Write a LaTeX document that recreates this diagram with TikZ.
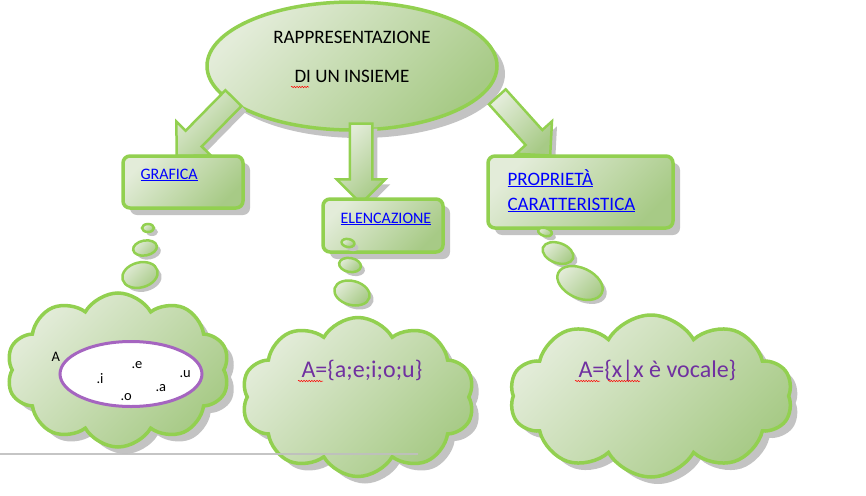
\documentclass[tikz,border=0pt]{standalone}
\usepackage{fontspec}
\setmainfont{Carlito}
\usetikzlibrary{shapes.geometric,shapes.arrows,shapes.symbols,shadows,decorations.pathmorphing}
\definecolor{verde}{HTML}{92D050}
\definecolor{chiaro}{HTML}{E3ECD9}
\definecolor{scuro}{HTML}{A7CA86}
\definecolor{ombra}{HTML}{C3C3C3}
\definecolor{viola}{HTML}{7030A0}
\definecolor{lilla}{HTML}{A565C0}
\definecolor{linea}{HTML}{BFBFBF}
\tikzset{
  sfumato/.style={shading=axis, top color=chiaro, bottom color=scuro, shading angle=45},
  ombreggiato/.style={drop shadow={shadow xshift=#1, shadow yshift=-#1, fill=ombra, opacity=1}},
  ombreggiato/.default=7pt,
  forma/.style={draw=verde, line width=3.5pt, sfumato},
  freccia/.style={forma, ombreggiato=5pt, single arrow, inner xsep=0pt, inner ysep=10pt,
    single arrow head extend=13pt, line width=2.5pt},
  riquadro/.style={forma, ombreggiato, rounded corners=7pt},
  bolla/.style={forma, ombreggiato=4pt, ellipse, line width=2.5pt, inner sep=0pt},
  nuvola/.style={forma, ombreggiato, cloud, cloud puffs=10, cloud puff arc=120},
  titolo/.style={font=\fontsize{19}{22}\selectfont, anchor=base},
  link/.style={text=blue, font=\fontsize{16}{19}\selectfont, anchor=base west},
  insieme/.style={text=viola, font=\fontsize{24}{28}\selectfont, anchor=base west},
  lettera/.style={font=\fontsize{14.5}{17}\selectfont, anchor=base west},
  ondina/.style={draw=red, line width=0.5pt, decorate, decoration={snake, amplitude=0.7pt, segment length=2.6pt}}
}
\begin{document}
\begin{tikzpicture}[x=1pt,y=-1pt]
  \useasboundingbox (0,0) rectangle (866,495);
  % ellisse principale
  \node[forma, ombreggiato=8pt, ellipse, minimum width=290pt, minimum height=128pt] (rappr) at (352,66) {};
  \node[titolo] (riga1) at (352,44) {RAPPRESENTAZIONE};
  \node[titolo] (riga2) at (352,82) {DI UN INSIEME};
  \draw[ondina] ([yshift=-5pt]riga2.base west) -- ++(18,0);
  % frecce
  \node[freccia, minimum height=81pt, rotate=225.5] (frecciaG) at (209,123) {};
  \node[freccia, minimum height=80pt, rotate=-90] (frecciaE) at (361,158) {};
  \node[freccia, minimum height=79pt, rotate=-48] (frecciaP) at (520,122) {};
  % riquadri
  \node[riquadro, minimum width=120pt, minimum height=52pt] (grafica) at (183,182) {};
  \node[link] (testoG) at (137,179) {\underline{GRAFICA}};
  \node[riquadro, minimum width=120pt, minimum height=53pt] (elenco) at (383,225.5) {};
  \node[link] (testoE) at (337,223) {\underline{ELENCAZIONE}};
  \node[riquadro, minimum width=185pt, minimum height=72pt] (propr) at (580.5,192) {};
  \node[link, font=\fontsize{19}{22}\selectfont] (testoP1) at (504,185) {\underline{PROPRIETÀ}};
  \node[link, font=\fontsize{19}{22}\selectfont] (testoP2) at (504,210) {\underline{CARATTERISTICA}};
  % bolle
  \node[bolla, minimum width=12pt, minimum height=8pt] (bG1) at (148,228) {};
  \node[bolla, minimum width=24pt, minimum height=15pt, rotate=10] (bG2) at (145,248) {};
  \node[bolla, minimum width=36pt, minimum height=25pt, rotate=15] (bG3) at (140,275) {};
  \node[bolla, minimum width=13pt, minimum height=8pt, rotate=-10] (bE1) at (348,243) {};
  \node[bolla, minimum width=22pt, minimum height=14pt, rotate=-10] (bE2) at (350,265) {};
  \node[bolla, minimum width=36pt, minimum height=24pt, rotate=-15] (bE3) at (352,293) {};
  \node[bolla, minimum width=14pt, minimum height=8pt, rotate=-15] (bP1) at (545,232) {};
  \node[bolla, minimum width=32pt, minimum height=20pt, rotate=-20] (bP2) at (558,253) {};
  \node[bolla, minimum width=48pt, minimum height=30pt, rotate=-25] (bP3) at (580,283) {};
  % nuvole
  \node[nuvola, minimum width=223pt, minimum height=154pt] (nuvolaG) at (118,370) {};
  \node[nuvola, minimum width=233pt, minimum height=159pt] (nuvolaE) at (358,397) {};
  \node[nuvola, minimum width=283pt, minimum height=162pt] (nuvolaP) at (651,396) {};
  % insieme disegnato
  \node[ellipse, draw=lilla, line width=3pt, fill=white, minimum width=142pt, minimum height=65pt] (vocali) at (131,374) {};
  \node[lettera] (nomeA) at (48,361) {A};
  \node[lettera] (lE) at (128,368) {.e};
  \node[lettera] (lI) at (93,383) {.i};
  \node[lettera] (lU) at (176,377) {.u};
  \node[lettera] (lA) at (152,391) {.a};
  \node[lettera] (lO) at (117,400) {.o};
  % scritture
  \node[insieme] (elencoA) at (298,377) {A=\{a;e;i;o;u\}};
  \draw[ondina] ([yshift=-4pt]elencoA.base west) -- ++(25,0);
  \node[insieme] (proprA) at (575,377) {A=\{x|x è vocale\}};
  \draw[ondina] ([yshift=-4pt]proprA.base west) -- ++(25,0);
  \draw[ondina] ([xshift=33pt,yshift=-4pt]proprA.base west) -- ++(32,0);
  % riga in basso
  \draw[linea, line width=2.5pt, opacity=0.9] (0,454) -- (418,454);
\end{tikzpicture}
\end{document}
